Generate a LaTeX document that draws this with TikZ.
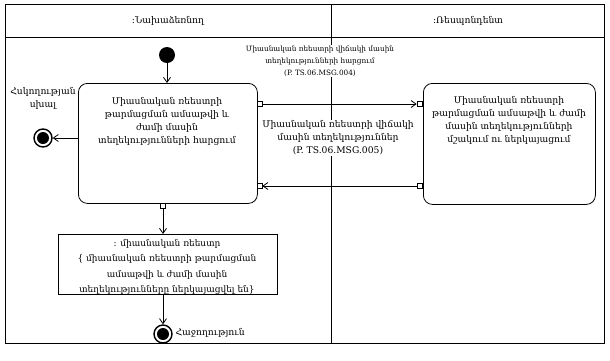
\documentclass[tikz,border=0pt]{standalone}
\usepackage{fontspec}
\setmainfont{DejaVu Serif}
\usetikzlibrary{arrows.meta}
\begin{document}
\begin{tikzpicture}[x=1pt,y=-1pt,
  line/.style={draw=black,line width=0.8pt},
  msg/.style={line,-{Straight Barb[length=5pt,width=7pt]}},
  statebox/.style={draw=black,line width=0.8pt,rounded corners=9pt,minimum width=179pt,minimum height=120pt,anchor=north west,inner sep=0pt},
  pinbox/.style={draw=black,fill=white,line width=0.6pt,minimum size=5pt,inner sep=0pt},
  txt/.style={font=\fontsize{9.2}{13}\selectfont,align=center},
  small/.style={font=\fontsize{7.3}{12}\selectfont,align=center},
  startnode/.style={circle,fill=black,minimum size=16pt,inner sep=0pt},
  endnode/.style={circle,draw=black,line width=1.4pt,fill=white,minimum size=18pt,inner sep=0pt,
     path picture={\fill[black] (path picture bounding box.center) circle (6pt);}}]
\useasboundingbox (0,0) rectangle (610,360);
% frame and lanes
\draw[line] (5,4) rectangle (604,343);
\draw[line] (5,37) -- (604,37);
\draw[line] (331,4) -- (331,343);
\node[txt] (laneA) at (168,21) {:Նախաձեռնող};
\node[txt] (laneB) at (468,21) {:Ռեսպոնդենտ};
% states
\node[statebox] (s1) at (78,83) {};
\node[txt,anchor=north] (s1t) at (167,94) {Միասնական ռեեստրի\\թարմացման ամսաթվի և\\ժամի մասին\\տեղեկությունների հարցում};
\node[statebox,minimum width=172pt,minimum height=121pt] (s2) at (423,83) {};
\node[txt,anchor=north] (s2t) at (509,93) {Միասնական ռեեստրի\\թարմացման ամսաթվի և ժամի\\մասին տեղեկությունների\\մշակում ու ներկայացում};
% initial
\node[startnode] (init) at (167,55) {};
\draw[msg] (init) -- (s1.north -| init);
% error final
\node[endnode] (err) at (43,138) {};
\node[txt] (errl) at (43,98) {Հսկողության\\սխալ};
\draw[msg] (s1.west |- err) -- (err);
% pins and messages
\node[pinbox] (p1) at (259.5,104) {};
\node[pinbox] (p2) at (419.5,104) {};
\draw[msg] (p1) -- (p2);
\node[small,fill=white,inner sep=1pt] (m1) at (320,61) {Միասնական ռեեստրի վիճակի մասին\\տեղեկությունների հարցում\\(P. TS.06.MSG.004)};
\node[pinbox] (p3) at (419.5,186) {};
\node[pinbox] (p4) at (259.5,186) {};
\draw[msg] (p3) -- (p4);
\node[txt,fill=white,inner sep=1pt] (m2) at (338,138) {Միասնական ռեեստրի վիճակի\\մասին տեղեկություններ\\(P. TS.06.MSG.005)};
% object
\node[pinbox] (p5) at (163,206) {};
\node[draw=black,line width=0.8pt,minimum width=219pt,minimum height=60pt,anchor=north west,inner sep=0pt] (obj) at (58,234) {};
\node[txt,font=\fontsize{9}{15.3}\selectfont] (objt) at (167,267) {: միասնական ռեեստր\\\{ միասնական ռեեստրի թարմացման\\ամսաթվի և ժամի մասին\\տեղեկությունները ներկայացվել են\}};
\draw[msg] (p5) -- (obj.north -| p5);
% success final
\node[endnode] (fin) at (163,334) {};
\draw[msg] (obj.south -| fin) -- (fin);
\node[txt,anchor=west] (finl) at (172,333) {Հաջողություն};
\end{tikzpicture}
\end{document}
